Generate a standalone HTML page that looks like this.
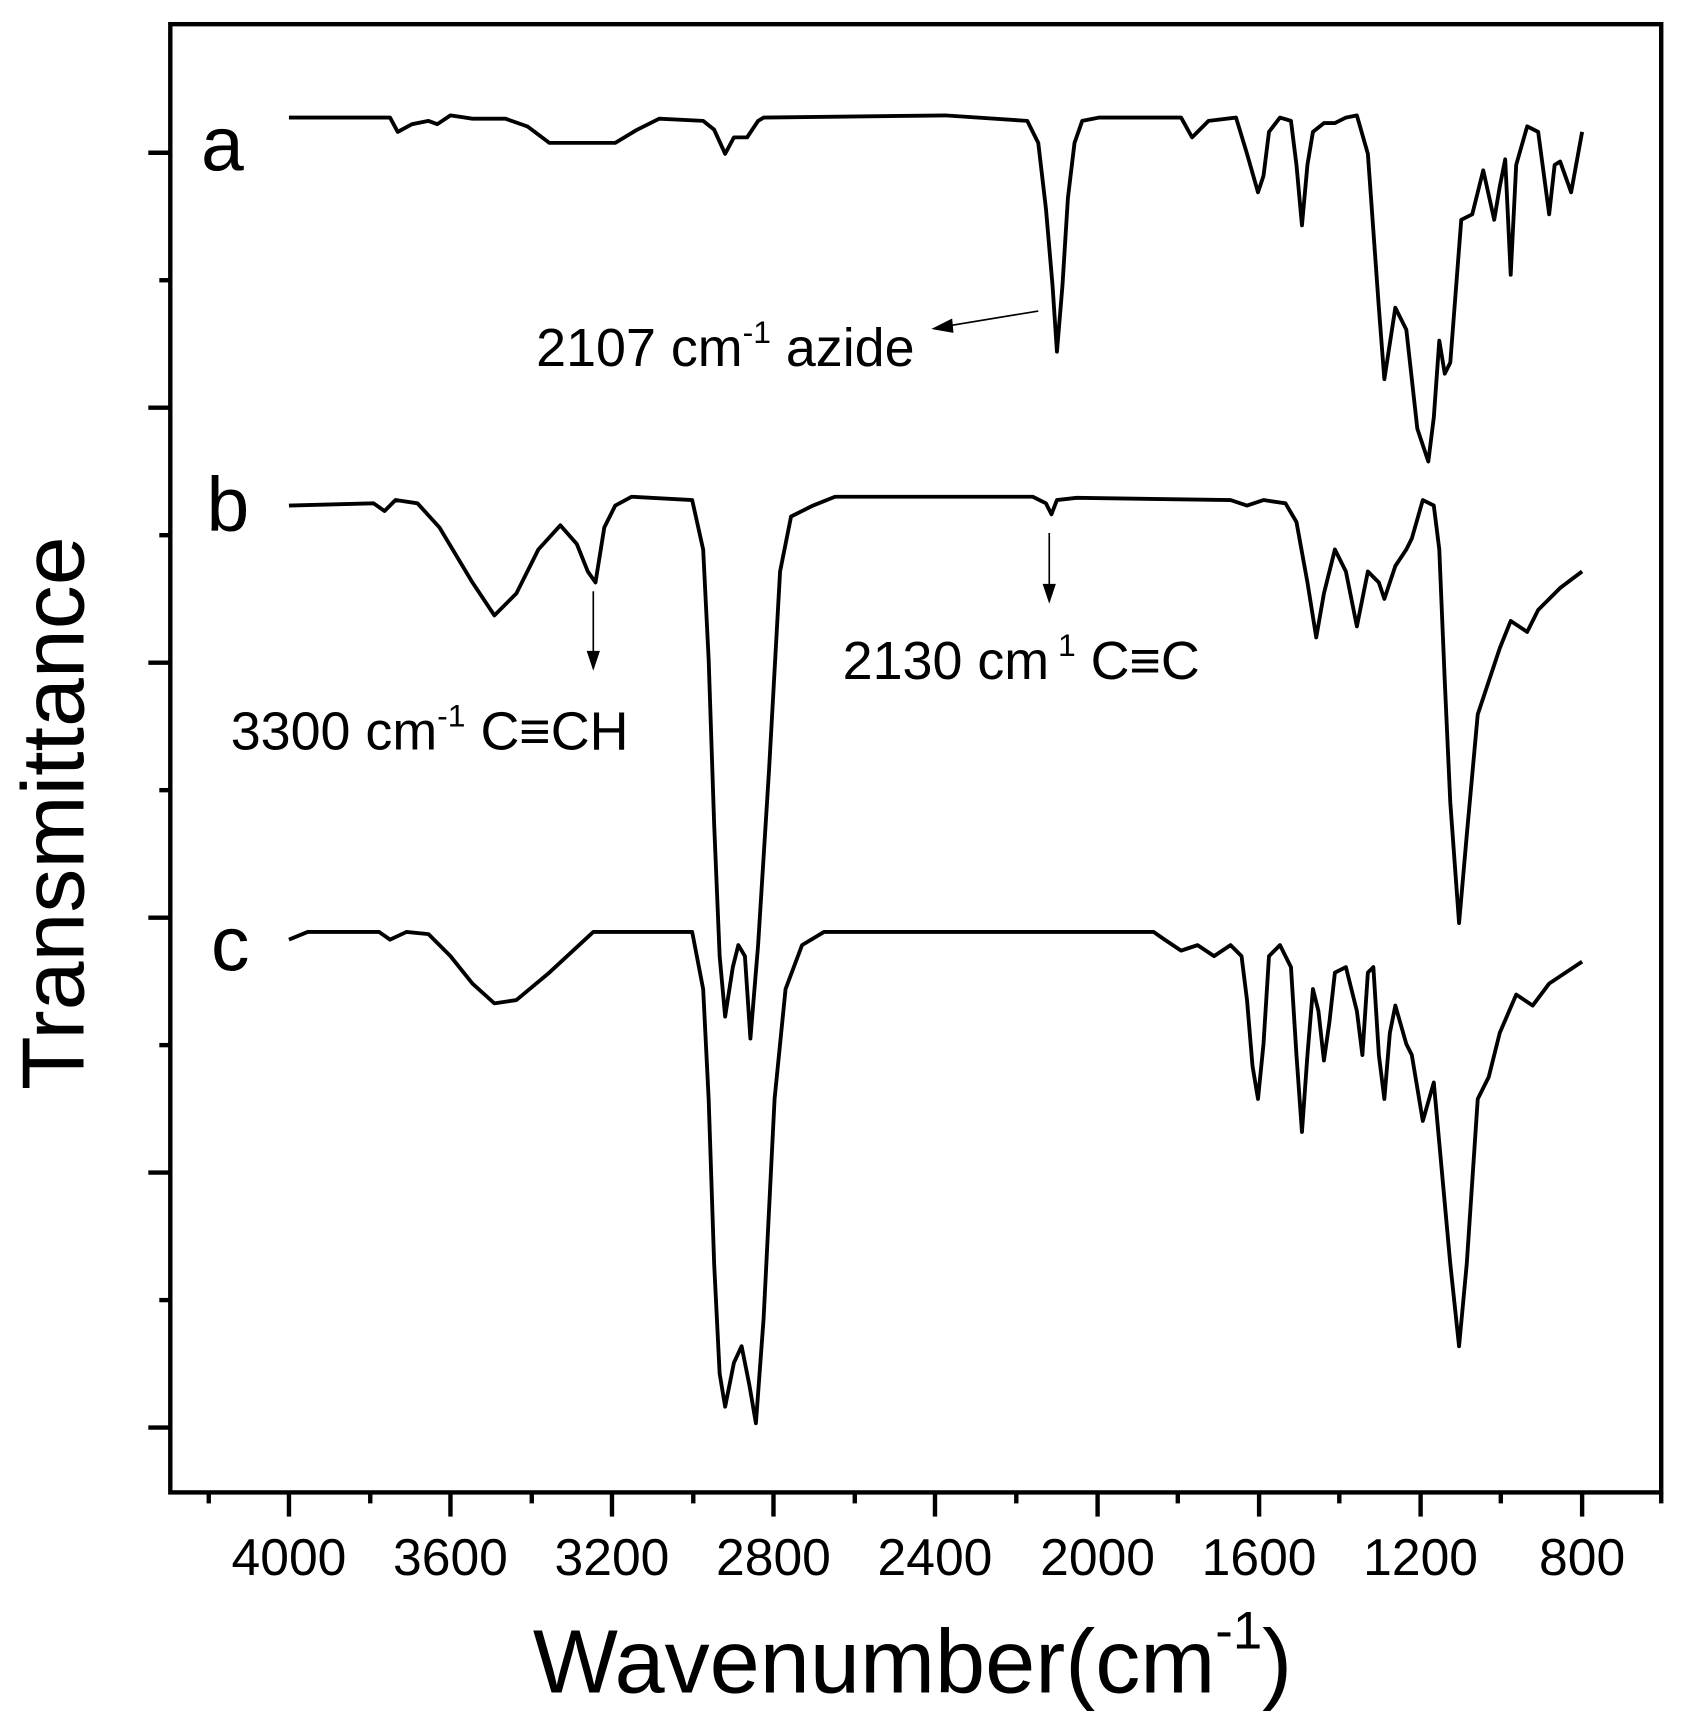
<!DOCTYPE html>
<html><head><meta charset="utf-8"><style>html,body{margin:0;padding:0;background:#fff}svg{display:block}</style></head>
<body>
<svg width="1681" height="1721" viewBox="0 0 1530 1566" preserveAspectRatio="none" xmlns="http://www.w3.org/2000/svg" font-family="Liberation Sans, sans-serif">
<rect x="0" y="0" width="1530" height="1566" fill="#fff"/>
<rect x="155" y="22" width="1357" height="1336" fill="none" stroke="#000" stroke-width="4"/>
<g stroke="#000" stroke-width="4">
<line x1="135" y1="139" x2="155" y2="139"/><line x1="135" y1="371" x2="155" y2="371"/><line x1="135" y1="603" x2="155" y2="603"/><line x1="135" y1="835" x2="155" y2="835"/><line x1="135" y1="1067" x2="155" y2="1067"/><line x1="135" y1="1299" x2="155" y2="1299"/>
<line x1="145" y1="255" x2="155" y2="255"/><line x1="145" y1="487" x2="155" y2="487"/><line x1="145" y1="719" x2="155" y2="719"/><line x1="145" y1="951" x2="155" y2="951"/><line x1="145" y1="1183" x2="155" y2="1183"/>
<line x1="263" y1="1358" x2="263" y2="1380"/><line x1="410" y1="1358" x2="410" y2="1380"/><line x1="557" y1="1358" x2="557" y2="1380"/><line x1="704" y1="1358" x2="704" y2="1380"/><line x1="851" y1="1358" x2="851" y2="1380"/><line x1="999" y1="1358" x2="999" y2="1380"/><line x1="1146" y1="1358" x2="1146" y2="1380"/><line x1="1293" y1="1358" x2="1293" y2="1380"/><line x1="1440" y1="1358" x2="1440" y2="1380"/>
<line x1="190" y1="1358" x2="190" y2="1368"/><line x1="337" y1="1358" x2="337" y2="1368"/><line x1="484" y1="1358" x2="484" y2="1368"/><line x1="631" y1="1358" x2="631" y2="1368"/><line x1="778" y1="1358" x2="778" y2="1368"/><line x1="925" y1="1358" x2="925" y2="1368"/><line x1="1072" y1="1358" x2="1072" y2="1368"/><line x1="1219" y1="1358" x2="1219" y2="1368"/><line x1="1366" y1="1358" x2="1366" y2="1368"/><line x1="1512" y1="1358" x2="1512" y2="1368"/>
</g>
<g font-size="47" text-anchor="middle" fill="#000">
<text x="263" y="1433">4000</text><text x="410" y="1433">3600</text><text x="557" y="1433">3200</text><text x="704" y="1433">2800</text><text x="851" y="1433">2400</text><text x="999" y="1433">2000</text><text x="1146" y="1433">1600</text><text x="1293" y="1433">1200</text><text x="1440" y="1433">800</text>
</g>
<text x="485" y="1540" font-size="82">Wavenumber(cm<tspan font-size="48" dy="-40">-1</tspan><tspan dy="40">)</tspan></text>
<text transform="translate(76,740) rotate(-90)" font-size="80" text-anchor="middle">Transmittance</text>
<g font-size="70"><text x="183" y="155">a</text><text x="188" y="483">b</text><text x="192" y="883">c</text></g>
<g fill="none" stroke="#000" stroke-width="3.5" stroke-linejoin="round">
<polyline points="263,107 355,107 362,120 375,113 390,110 398,113 410,105 430,108 460,108 480,115 500,130 560,130 580,118 600,108 640,110 650,118 660,140 668,125 680,125 690,110 695,107 860,105 935,110 945,130 952,190 958,260 962,320 967,260 972,180 978,130 985,110 1000,107 1075,107 1085,125 1100,110 1125,107 1135,140 1145,175 1150,160 1155,120 1165,107 1175,110 1180,150 1185,205 1190,150 1195,120 1205,112 1215,112 1225,107 1235,105 1245,140 1255,280 1260,345 1270,280 1280,300 1290,390 1300,420 1305,380 1310,310 1315,340 1320,330 1330,200 1340,195 1350,155 1360,200 1365,170 1370,145 1375,250 1380,150 1390,115 1400,120 1410,195 1415,150 1420,147 1430,175 1440,120"/>
<polyline points="263,460 340,458 350,465 360,455 380,458 400,480 430,530 450,560 470,540 490,500 510,478 525,495 535,520 542,530 550,480 560,460 575,452 630,455 640,500 645,600 650,750 655,870 660,925 667,880 672,860 678,870 683,945 690,860 700,700 710,520 720,470 740,460 760,452 940,452 952,458 957,468 962,455 980,453 1120,455 1135,460 1150,455 1170,458 1180,475 1190,530 1198,580 1205,540 1215,500 1225,520 1235,570 1245,520 1255,530 1260,545 1270,515 1280,500 1285,490 1295,455 1305,460 1310,500 1315,620 1320,730 1328,840 1335,760 1345,650 1355,620 1365,590 1375,565 1390,575 1400,555 1420,535 1440,520"/>
<polyline points="263,855 280,848 345,848 355,855 370,848 390,850 410,870 430,895 450,913 470,910 500,885 540,848 630,848 640,900 645,1000 650,1150 655,1250 660,1280 668,1240 675,1225 682,1260 688,1295 695,1200 705,1000 715,900 730,860 750,848 1050,848 1060,855 1075,865 1090,860 1105,870 1120,860 1130,870 1135,910 1140,970 1145,1000 1150,950 1155,870 1165,860 1175,880 1180,960 1185,1030 1190,960 1195,900 1200,920 1205,965 1210,930 1215,885 1225,880 1235,920 1240,960 1245,885 1250,880 1255,960 1260,1000 1265,940 1270,915 1280,950 1285,960 1295,1020 1305,985 1310,1040 1320,1150 1328,1225 1335,1150 1345,1000 1355,980 1365,940 1380,905 1395,915 1410,895 1440,875"/>
</g>
<g stroke="#000" stroke-width="1.5" fill="#000">
<line x1="945" y1="283" x2="860" y2="297"/><polygon points="850,299 866,291 867,302"/>
<line x1="955" y1="485" x2="955" y2="535"/><polygon points="955,547 950,532 960,532"/>
<line x1="540" y1="538" x2="540" y2="596"/><polygon points="540,608 535,593 545,593"/>
</g>
<g font-size="49" fill="#000">
<text x="488" y="333">2107 cm<tspan font-size="29" dy="-21">-1</tspan><tspan dy="21"> azide</tspan></text>
<text x="767" y="618">2130 cm<tspan font-size="29" dy="-21"> 1</tspan><tspan dy="21"> C≡C</tspan></text>
<text x="210" y="682">3300 cm<tspan font-size="29" dy="-21">-1</tspan><tspan dy="21"> C≡CH</tspan></text>
</g>
</svg>
</body></html>
